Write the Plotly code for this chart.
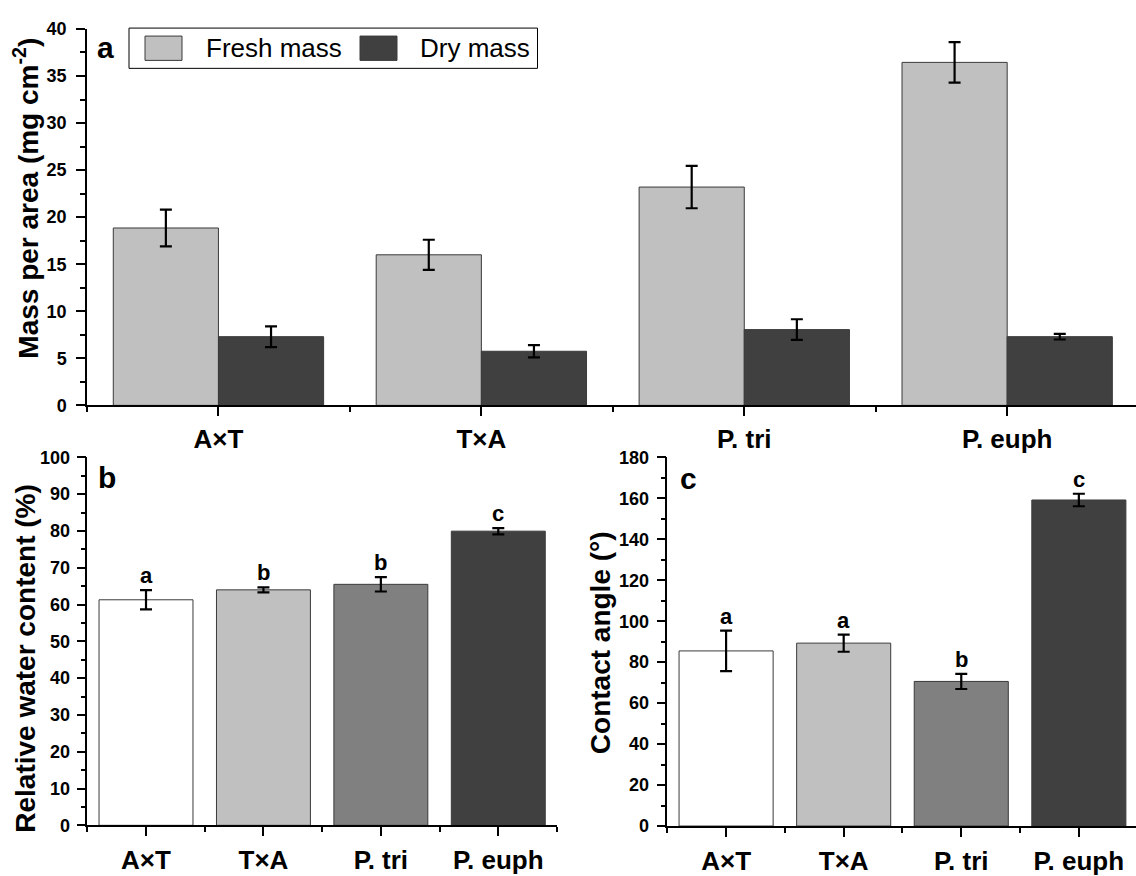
import plotly.graph_objects as go

# ---------------- data ----------------
cats = ["A×T", "T×A", "P. tri", "P. euph"]
fresh_mass = [18.85, 16.0, 23.2, 36.45]
fresh_err = [1.95, 1.6, 2.25, 2.15]
dry_mass = [7.3, 5.75, 8.05, 7.3]
dry_err = [1.1, 0.65, 1.1, 0.3]
rwc = [61.3, 64.0, 65.5, 79.95]
rwc_err = [2.6, 0.7, 1.95, 0.85]
rwc_letters = ["a", "b", "b", "c"]
angle = [85.5, 89.3, 70.6, 159.2]
angle_err = [9.9, 4.2, 3.7, 3.05]
angle_letters = ["a", "a", "b", "c"]
series_names = ["Fresh mass", "Dry mass"]

# ---------------- style ----------------
FONT = "Liberation Sans, Arial, sans-serif"
W, H = 1136, 876
C_FRESH = "#c0c0c0"
C_DRY = "#404040"
C_BC = ["#ffffff", "#c0c0c0", "#808080", "#404040"]
EDGE = "#3a3a3a"

def px(x):
    return x / W

def py(y):
    return (H - y) / H

idx = list(range(len(cats)))
err_style = dict(type="data", color="black", thickness=2.2, width=6, visible=True)

fig = go.Figure()

# panel a
fig.add_trace(go.Bar(x=idx, y=fresh_mass, name=series_names[0], marker=dict(color=C_FRESH, line=dict(color=EDGE, width=1)),
                     error_y=dict(array=fresh_err, **err_style), xaxis="x", yaxis="y", showlegend=False))
fig.add_trace(go.Bar(x=idx, y=dry_mass, name=series_names[1], marker=dict(color=C_DRY, line=dict(color=EDGE, width=1)),
                     error_y=dict(array=dry_err, **err_style), xaxis="x", yaxis="y", showlegend=False))
# panel b
fig.add_trace(go.Bar(x=idx, y=rwc, marker=dict(color=C_BC, line=dict(color=EDGE, width=1)),
                     error_y=dict(array=rwc_err, **err_style), xaxis="x2", yaxis="y2", showlegend=False))
# panel c
fig.add_trace(go.Bar(x=idx, y=angle, marker=dict(color=C_BC, line=dict(color=EDGE, width=1)),
                     error_y=dict(array=angle_err, **err_style), xaxis="x3", yaxis="y3", showlegend=False))

def xax(domain, anchor, rng, standoff):
    return dict(domain=domain, anchor=anchor, range=rng, tickmode="array", tickvals=idx, ticktext=cats,
                ticks="outside", ticklen=9, tickwidth=1.5, tickcolor="black",
                showline=True, linecolor="black", linewidth=1.5, showgrid=False, zeroline=False,
                tickfont=dict(family=FONT, size=26, color="black", weight="bold"),
                ticklabelstandoff=standoff,
                minor=dict(ticks="outside", ticklen=5, tickwidth=1.5, tickcolor="black",
                           tickmode="linear", tick0=0.5, dtick=1, showgrid=False),
                fixedrange=True)

def yax(domain, anchor, rng, dtick, standoff):
    return dict(domain=domain, anchor=anchor, range=rng, tickmode="linear", tick0=0, dtick=dtick,
                ticks="outside", ticklen=9, tickwidth=1.5, tickcolor="black",
                showline=True, linecolor="black", linewidth=1.5, showgrid=False, zeroline=False,
                tickfont=dict(family=FONT, size=18, color="black", weight="bold"),
                ticklabelstandoff=standoff,
                minor=dict(ticks="outside", ticklen=5, tickwidth=1.5, tickcolor="black",
                           dtick=dtick / 2, showgrid=False),
                fixedrange=True)

annotations = []
# significance letters
for i in idx:
    annotations.append(dict(x=i, y=rwc[i] + rwc_err[i], xref="x2", yref="y2", text=rwc_letters[i],
                            showarrow=False, yanchor="bottom",
                            font=dict(family=FONT, size=22, color="black", weight="bold")))
    annotations.append(dict(x=i, y=angle[i] + angle_err[i], xref="x3", yref="y3", text=angle_letters[i],
                            showarrow=False, yanchor="bottom",
                            font=dict(family=FONT, size=22, color="black", weight="bold")))

# panel letters
for t, (x, y) in zip(["a", "b", "c"], [(105, 39), (107, 481), (688, 482)]):
    annotations.append(dict(x=px(x), y=py(y), xref="paper", yref="paper", text=t, showarrow=False,
                            xanchor="center", yanchor="middle",
                            font=dict(family=FONT, size=30, color="black", weight="bold")))

# axis titles
for t, (x, y) in zip(["Mass per area (mg cm<sup>-2</sup>)", "Relative water content (%)", "Contact angle (°)"],
                     [(26, 194), (26, 667), (600, 651)]):
    annotations.append(dict(x=px(x), y=py(y), xref="paper", yref="paper", text=t, showarrow=False,
                            textangle=-90, xanchor="center", yanchor="middle",
                            font=dict(family=FONT, size=28, color="black", weight="bold")))

# manual legend
shapes = [
    dict(type="rect", xref="paper", yref="paper", x0=px(129), x1=px(537.5), y0=py(60), y1=py(18.6),
         line=dict(color="black", width=1), fillcolor="white"),
    dict(type="rect", xref="paper", yref="paper", x0=px(145), x1=px(182), y0=py(51.8), y1=py(26.8),
         line=dict(color=EDGE, width=1), fillcolor=C_FRESH),
    dict(type="rect", xref="paper", yref="paper", x0=px(360), x1=px(397), y0=py(51.8), y1=py(26.8),
         line=dict(color=EDGE, width=1), fillcolor=C_DRY),
]
for t, x in zip(series_names, [203.6, 418]):
    annotations.append(dict(x=px(x), y=py(39.5), xref="paper", yref="paper", text=t, showarrow=False,
                            xanchor="left", yanchor="middle",
                            font=dict(family=FONT, size=26, color="black")))

fig.update_layout(
    width=W, height=H, margin=dict(l=0, r=0, t=0, b=0),
    paper_bgcolor="white", plot_bgcolor="white",
    barmode="group", bargap=0.2, bargroupgap=0,
    xaxis=xax([px(87), 1.0], "y", [-0.5, 3.49], 1),
    yaxis=yax([py(406.5), py(19.5)], "x", [0, 40], 5, 6),
    xaxis2=xax([px(87.3), px(557)], "y2", [-0.5, 3.5], 2),
    yaxis2=yax([py(838.3), py(460)], "x2", [0, 100], 10, 3),
    xaxis3=xax([px(667.3), 1.0], "y3", [-0.5, 3.486], 2),
    yaxis3=yax([py(839), py(460)], "x3", [0, 180], 20, 4),
    annotations=annotations, shapes=shapes,
    showlegend=False,
)

fig.write_html("out.html", config={"displayModeBar": False},
               post_script="document.body.style.margin='0px';document.body.style.overflow='hidden';")
